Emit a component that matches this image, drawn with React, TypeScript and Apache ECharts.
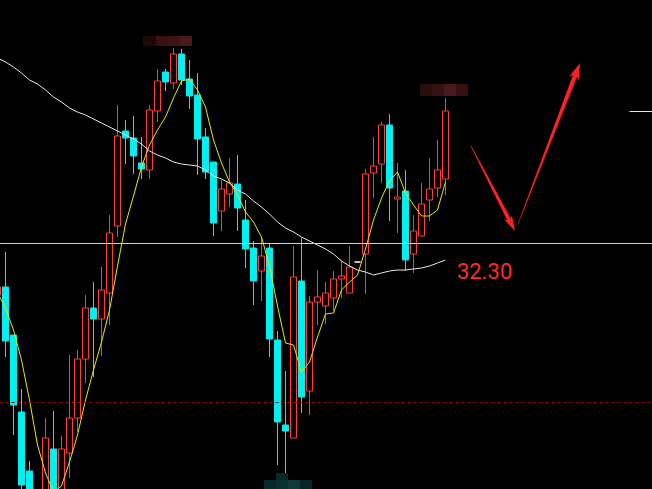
import React, { useEffect, useRef } from 'react';
import * as echarts from 'echarts';

// Reference levels
const LEVEL = 32.3;      // white horizontal line
const SUPPORT = 30.71;   // red dashed line
const LAST_MARK = 33.62; // short white marker at the right edge

// Candles (first one is partly off-screen at the left)
const opens = [
  31.78, 31.86, 31.38, 30.61, 30.02, 29.73, 29.78, 30.24, 29.80, 30.20,
  30.55, 31.14, 31.65, 31.54, 31.80, 32.47, 33.42, 33.35, 33.10, 33.03,
  33.62, 34.01, 33.90, 34.19, 33.94, 33.78, 33.36, 33.11, 32.62, 32.79,
  32.89, 32.53, 32.25, 32.02, 32.25, 31.33, 30.48, 30.35, 31.92, 30.82,
  31.71, 31.67, 31.75, 31.94, 31.80, 32.11, 32.19, 33.00, 33.09, 33.48,
  32.74, 32.82, 32.19, 32.37, 32.73, 32.85, 32.94,
];
const closes = [
  31.86, 31.32, 30.68, 29.88, 29.73, 29.58, 30.35, 29.76, 30.24, 30.55,
  31.14, 31.65, 31.54, 31.83, 32.40, 33.37, 33.35, 33.17, 33.04, 33.63,
  33.92, 33.91, 34.19, 33.93, 33.77, 33.34, 33.01, 32.50, 32.84, 32.90,
  32.65, 32.24, 31.92, 32.17, 31.34, 30.51, 30.42, 31.96, 30.76, 31.71,
  31.76, 31.80, 31.94, 31.97, 32.06, 32.11, 32.99, 33.07, 33.48, 32.85,
  32.76, 32.13, 32.42, 32.69, 32.84, 33.03, 33.62,
];
const lows = [
  31.74, 31.16, 30.38, 29.81, 29.63, 29.48, 29.68, 29.68, 29.73, 29.95,
  30.41, 30.90, 30.96, 31.17, 31.48, 32.36, 33.09, 32.99, 32.94, 32.94,
  33.51, 33.82, 33.84, 33.88, 33.64, 32.98, 32.94, 32.37, 32.42, 32.66,
  32.42, 32.05, 31.68, 31.72, 31.16, 30.08, 29.93, 30.35, 30.60, 30.58,
  31.48, 31.49, 31.62, 31.75, 31.80, 32.11, 31.79, 32.75, 32.90, 32.52,
  32.40, 32.02, 32.00, 32.37, 32.52, 32.76, 32.78,
];
const highs = [
  31.90, 32.21, 31.38, 30.84, 30.12, 29.78, 30.55, 30.62, 30.37, 31.18,
  31.23, 31.78, 31.91, 32.06, 32.58, 33.68, 33.53, 33.57, 33.36, 33.68,
  34.04, 34.04, 34.25, 34.24, 34.13, 34.00, 33.45, 33.11, 32.93, 33.15,
  33.18, 32.73, 32.32, 32.36, 32.29, 31.42, 31.02, 32.27, 32.35, 31.77,
  32.03, 31.91, 32.02, 32.12, 32.27, 32.11, 33.04, 33.36, 33.51, 33.59,
  33.10, 33.03, 32.58, 32.90, 33.15, 33.33, 33.75,
];

// Short moving average (yellow)
const maShort = [
  31.80, 31.65, 31.43, 31.13, 30.73, 30.28, 30.00, 29.81, 29.87, 30.11,
  30.38, 30.73, 31.03, 31.31, 31.63, 32.07, 32.49, 32.77, 33.06, 33.28,
  33.43, 33.56, 33.75, 33.92, 33.94, 33.83, 33.66, 33.33, 33.10, 32.91,
  32.78, 32.61, 32.51, 32.36, 32.07, 31.67, 31.30, 31.28, 31.01, 31.11,
  31.36, 31.59, 31.60, 31.83, 31.91, 31.98, 32.24, 32.53, 32.75, 32.92,
  33.01, 32.80, 32.68, 32.57, 32.57, 32.63, 32.91,
];
// Long moving average (white)
const maLong = [
  34.15, 34.11, 34.06, 34.00, 33.93, 33.89, 33.83, 33.76, 33.71, 33.65,
  33.61, 33.58, 33.54, 33.50, 33.46, 33.42, 33.38, 33.34, 33.29, 33.22,
  33.18, 33.15, 33.11, 33.09, 33.08, 33.07, 33.03, 32.97, 32.94, 32.90,
  32.83, 32.79, 32.72, 32.66, 32.59, 32.51, 32.45, 32.41, 32.36, 32.32,
  32.28, 32.24, 32.19, 32.12, 32.07, 32.03, 32.01, 31.98, 32.00, 32.02,
  32.03, 32.03, 32.04, 32.05, 32.07, 32.10, 32.13,
];

const CATEGORY_COUNT = 83;
const categories = Array.from({ length: CATEGORY_COUNT }, (_, k) => String(k));

// The chart container is shifted left so the partly hidden first candle fits.
const OX = 8;

// Pixelated (mosaic) label blocks: [x, y, w, h, color] in page pixels
const mosaicBlocks: [number, number, number, number, string][] = [
  [143, 36, 13, 10, '#1c0808'],
  [156, 36, 12, 10, '#3a1010'],
  [168, 36, 12, 10, '#3f1414'],
  [180, 36, 12, 10, '#4c1a1a'],
  [420, 84, 12, 12, '#2a0c0c'],
  [432, 84, 12, 12, '#381212'],
  [444, 84, 12, 12, '#4a1a1a'],
  [456, 84, 12, 12, '#381010'],
  [276, 473, 12, 7, '#0a2a2a'],
  [264, 480, 12, 9, '#082828'],
  [276, 480, 12, 9, '#0a3030'],
  [288, 480, 12, 9, '#0e3a3a'],
  [300, 480, 12, 9, '#082626'],
];

function arrowPoints(
  x1: number, y1: number, x2: number, y2: number,
  wTail: number, wHead: number, headLen: number, headHalf: number
) {
  const dx = x2 - x1, dy = y2 - y1;
  const L = Math.hypot(dx, dy);
  const ux = dx / L, uy = dy / L;
  const nx = -uy, ny = ux;
  const bx = x2 - ux * headLen, by = y2 - uy * headLen;
  const back = 2.5;
  const pts = [
    [x1 + nx * wTail / 2, y1 + ny * wTail / 2],
    [bx + nx * wHead / 2, by + ny * wHead / 2],
    [bx + nx * headHalf - ux * back, by + ny * headHalf - uy * back],
    [x2, y2],
    [bx - nx * headHalf - ux * back, by - ny * headHalf - uy * back],
    [bx - nx * wHead / 2, by - ny * wHead / 2],
    [x1 - nx * wTail / 2, y1 - ny * wTail / 2],
  ];
  return pts.map(([x, y]) => [x + OX, y]);
}

export default function App() {
  const ref = useRef<HTMLDivElement>(null);

  useEffect(() => {
    if (!ref.current) return;
    const chart = echarts.init(ref.current, null, { renderer: 'svg' });

    const pad = (arr: any[]) => arr.concat(Array(CATEGORY_COUNT - arr.length).fill('-'));

    const candleData = opens.map((o, i) => {
      const v = [o, closes[i], lows[i], highs[i]];
      if (o === closes[i]) {
        return {
          value: v,
          itemStyle: {
            color: '#ffffff', color0: '#ffffff',
            borderColor: '#ffffff', borderColor0: '#ffffff', borderColorDoji: '#ffffff',
          },
        };
      }
      return v;
    });

    const red = '#ff3c3c';
    const cyan = '#00f0f0';

    const option: any = {
      animation: false,
      backgroundColor: '#000000',
      grid: { left: 1.5, right: 0.5, top: 0, bottom: 0, containLabel: false },
      xAxis: {
        type: 'category',
        data: categories,
        boundaryGap: true,
        show: false,
      },
      yAxis: {
        type: 'value',
        min: 29.84,
        max: 34.73,
        show: false,
        splitLine: { show: false },
      },
      series: [
        {
          type: 'line',
          name: 'levels',
          data: pad([]),
          z: 1,
          silent: true,
          showSymbol: false,
          markLine: {
            silent: true,
            symbol: ['none', 'none'],
            label: { show: false },
            animation: false,
            data: [
              { yAxis: LEVEL, lineStyle: { color: '#d2d2d2', width: 1, type: 'solid' } },
              { yAxis: SUPPORT, lineStyle: { color: '#a00000', width: 1, type: [3, 3] } },
              [
                { coord: ['79', LAST_MARK], lineStyle: { color: '#e6e6e6', width: 1, type: 'solid' } },
                { coord: ['82', LAST_MARK] },
              ],
            ],
          },
        },
        {
          type: 'candlestick',
          name: 'K',
          data: pad(candleData),
          barWidth: 7,
          z: 2,
          itemStyle: {
            color: 'rgba(0,0,0,0)',
            color0: cyan,
            borderColor: red,
            borderColor0: cyan,
            borderWidth: 1,
          },
        },
        {
          type: 'line',
          name: 'MA long',
          data: pad(maLong),
          z: 3,
          showSymbol: false,
          symbol: 'none',
          lineStyle: { color: '#e8e8e8', width: 1 },
        },
        {
          type: 'line',
          name: 'MA short',
          data: pad(maShort),
          z: 4,
          showSymbol: false,
          symbol: 'none',
          lineStyle: { color: '#e8e800', width: 1 },
        },
      ],
      graphic: [
        ...mosaicBlocks.map(([x, y, w, h, c]) => ({
          type: 'rect',
          silent: true,
          shape: { x: x + OX, y, width: w, height: h },
          style: { fill: c },
          z: 10,
        })),
        {
          type: 'polygon',
          silent: true,
          shape: { points: arrowPoints(471, 146, 515, 231, 0.6, 4, 13, 4.5) },
          style: { fill: '#ff2020' },
          z: 10,
        },
        {
          type: 'polygon',
          silent: true,
          shape: { points: arrowPoints(518, 224, 580, 63, 0.6, 4.5, 14, 5) },
          style: { fill: '#ff2020' },
          z: 10,
        },
        {
          type: 'text',
          silent: true,
          x: 457 + OX,
          y: 271,
          style: {
            text: LEVEL.toFixed(2),
            fill: '#ff2a2a',
            font: '22px Roboto, "Noto Sans", sans-serif',
            align: 'left',
            verticalAlign: 'middle',
          },
          z: 10,
        },
      ],
    };

    chart.setOption(option);
    return () => chart.dispose();
  }, []);

  return (
    <div
      ref={ref}
      style={{ position: 'fixed', left: -OX, top: 0, width: 666, height: 489, background: '#000' }}
    />
  );
}
